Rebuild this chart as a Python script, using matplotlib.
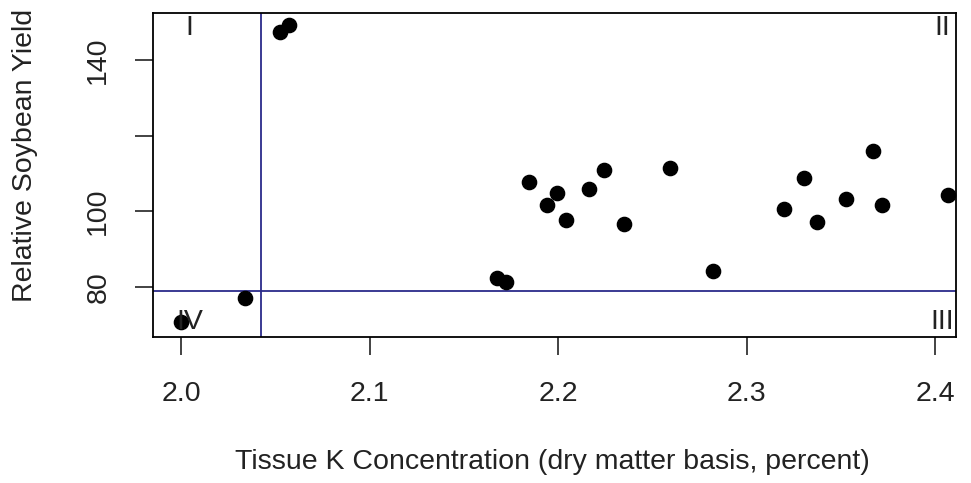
import matplotlib.pyplot as plt

plt.rcParams['font.family'] = ['Liberation Sans', 'DejaVu Sans']

tissue_k = [2.000, 2.034, 2.0525, 2.057, 2.1677, 2.172, 2.1846, 2.194, 2.1995,
            2.2042, 2.2164, 2.2244, 2.235, 2.2594, 2.2822, 2.3199, 2.3305,
            2.3374, 2.3528, 2.3671, 2.3719, 2.4069]
rel_yield = [70.7, 77.1, 147.4, 149.3, 82.4, 81.3, 107.7, 101.6, 104.8,
             97.6, 105.8, 110.9, 96.6, 111.4, 84.2, 100.5, 108.7,
             97.1, 103.2, 115.9, 101.6, 104.2]

crit_k = 2.0424
crit_yield = 78.9

x_ticks = [2.0, 2.1, 2.2, 2.3, 2.4]
x_labels = ['2.0', '2.1', '2.2', '2.3', '2.4']
y_ticks = [80, 100, 120, 140]
y_labels = ['80', '100', '', '140']

fs = 20.5
txt_col = '#222222'

fig = plt.figure(figsize=(9.71, 4.83), dpi=100)
ax = fig.add_axes([0.1576, 0.3023, 0.8270, 0.6708])

ax.scatter(tissue_k, rel_yield, s=105, color='black', zorder=3)
ax.axvline(crit_k, color='#2b2b8a', lw=1.3)
ax.axhline(crit_yield, color='#2b2b8a', lw=1.3)

ax.set_xlim(1.985, 2.411)
ax.set_ylim(66.8, 152.4)

ax.set_xticks(x_ticks)
ax.set_xticklabels(x_labels)
ax.set_yticks(y_ticks)
ax.set_yticklabels(y_labels, rotation=90, va='center')
ax.tick_params(labelsize=fs, colors=txt_col, length=13, width=1.2)
ax.tick_params(axis='x', pad=19)
ax.tick_params(axis='y', pad=17)

for s in ax.spines.values():
    s.set_linewidth(1.3)

# quadrant labels
ax.text(2.0045, 148.5, 'I', fontsize=fs, ha='center', va='center', color=txt_col)
ax.text(2.4035, 148.5, 'II', fontsize=fs, ha='center', va='center', color=txt_col)
ax.text(2.4035, 70.7, 'III', fontsize=fs, ha='center', va='center', color=txt_col)
ax.text(2.0045, 70.7, 'IV', fontsize=fs, ha='center', va='center', color=txt_col)

ax.set_xlabel('Tissue K Concentration (dry matter basis, percent)', fontsize=fs,
              color=txt_col, va='center')
ax.set_ylabel('Relative Soybean Yield', fontsize=fs, color=txt_col, va='center')
ax.xaxis.set_label_coords(0.497, -0.385)
ax.yaxis.set_label_coords(-0.159, 0.56)

fig.savefig('out.png', dpi=100)
